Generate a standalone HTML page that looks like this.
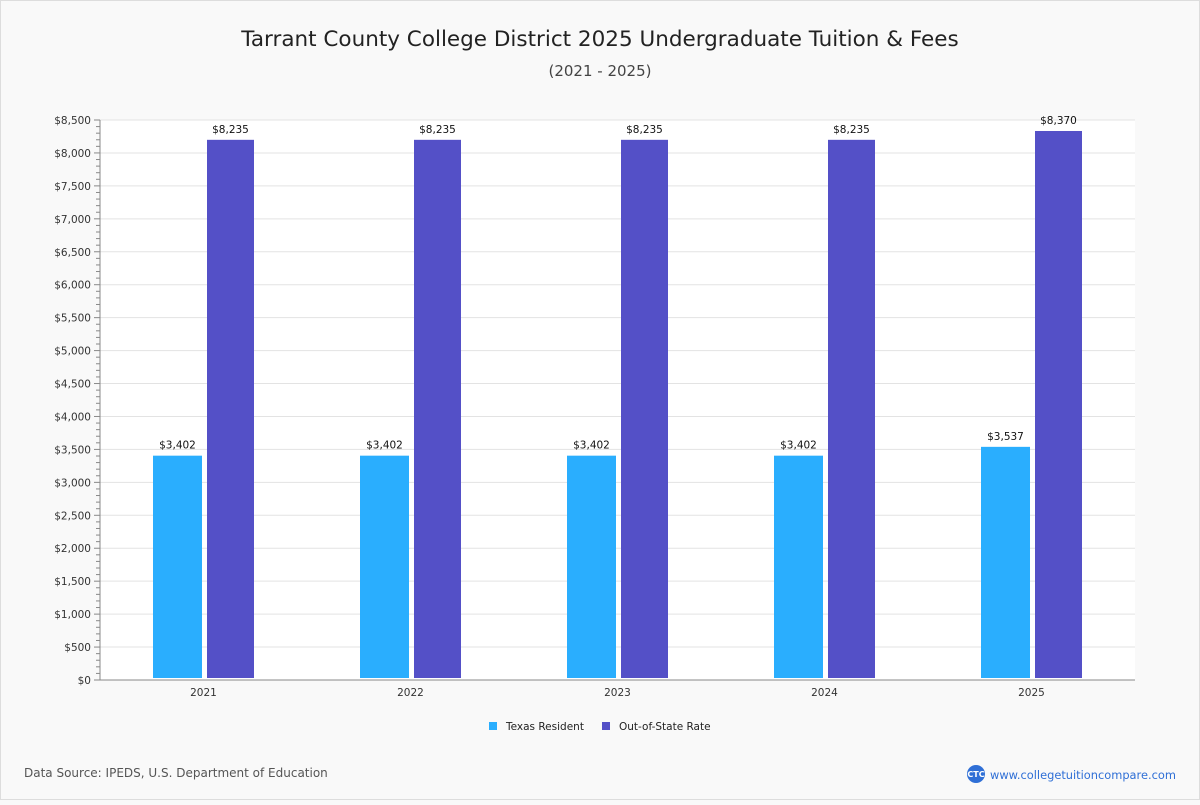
<!DOCTYPE html>
<html><head><meta charset="utf-8"><style>
body{margin:0;background:#f9f9f9;font-family:"Liberation Sans","DejaVu Sans",sans-serif;}
svg text{font-family:"DejaVu Sans","Liberation Sans",sans-serif;}
</style></head><body>
<svg id="c" width="1200" height="800" xmlns="http://www.w3.org/2000/svg">
<rect x="0.5" y="0.5" width="1199" height="799" fill="#f9f9f9" stroke="#ddd"/>
<text x="600" y="46" text-anchor="middle" font-size="21.5" fill="#222">Tarrant County College District 2025 Undergraduate Tuition &amp; Fees</text>
<text x="600" y="76" text-anchor="middle" font-size="15" fill="#444">(2021 - 2025)</text>
<rect x="100" y="120" width="1035" height="560" fill="#fff"/>
<g id="grid"></g><g id="bars"></g><g id="axes"></g>
<g>
<rect x="489" y="722" width="8" height="8" fill="#2aaefe"/>
<text x="506" y="730" font-size="10.5" fill="#222">Texas Resident</text>
<rect x="602" y="722" width="8" height="8" fill="#5450c7"/>
<text x="619" y="730" font-size="10.5" fill="#222">Out-of-State Rate</text>
</g>
<text x="24" y="777" font-size="12" fill="#555">Data Source: IPEDS, U.S. Department of Education</text>
<circle cx="976" cy="774" r="9" fill="#2f6fd6"/>
<text x="976" y="777" text-anchor="middle" font-size="8" fill="#fff" font-weight="bold">CTC</text>
<text x="990" y="779" font-size="11.4" fill="#2f6fd6">www.collegetuitioncompare.com</text>
</svg>
<script>
const categories=["2021","2022","2023","2024","2025"];
const resident=[3402,3402,3402,3402,3537];
const outState=[8235,8235,8235,8235,8370];
const yMax=8500, yStep=500;
const NS="http://www.w3.org/2000/svg";
const L=100,R=1135,T=120,B=680;
const y=v=>B-(v/yMax)*(B-T);
const BB=678;
const yb=v=>BB-(v/yMax)*(BB-T-2.5);
const cw=(R-L)/categories.length;
const xc=i=>L+cw*(i+0.5);
const fmt=v=>"$"+v.toLocaleString("en-US");
function mk(p,tag,a){const e=document.createElementNS(NS,tag);for(const k in a)e.setAttribute(k,a[k]);p.appendChild(e);return e;}
const grid=document.getElementById('grid'),bars=document.getElementById('bars'),axes=document.getElementById('axes');
for(let v=0;v<=yMax;v+=yStep){
 const g=mk(grid,'line',{x1:L,x2:R,y1:y(v),y2:y(v),stroke:'#e3e3e3'});
 
 
 const t=mk(axes,'text',{x:91,y:y(v)+4,'text-anchor':'end','font-size':10.5,fill:'#333'});
 t.textContent=fmt(v);
 
 
}
for(let v=0;v<=yMax;v+=100){
 const m=mk(axes,'line',{x1:v%500?96:94,x2:100,y1:y(v),y2:y(v),stroke:'#888'});
 
 
}
const ya=mk(axes,'line',{x1:100,x2:100,y1:T,y2:B,stroke:'#888'});


const xa=mk(axes,'line',{x1:L,x2:R,y1:B,y2:B,stroke:'#888'});


categories.forEach((c,i)=>{
 const cx=xc(i);
 const t=mk(axes,'text',{x:cx,y:696,'text-anchor':'middle','font-size':10.5,fill:'#333'});
 t.textContent=c;
 
 
 [[resident[i],cx-50.5,49,'#2aaefe','bar-texas-resident'],[outState[i],cx+3.5,47,'#5450c7','bar-out-of-state']].forEach(([v,x0,w,col,nm])=>{
  const r=mk(bars,'rect',{x:x0,y:yb(v),width:w,height:BB-yb(v),fill:col});
  
  
  const l=mk(bars,'text',{x:x0+w/2,y:yb(v)-7,'text-anchor':'middle','font-size':10.5,fill:'#111'});
  l.textContent=fmt(v);
  
  
 });
});
</script>
</body></html>
